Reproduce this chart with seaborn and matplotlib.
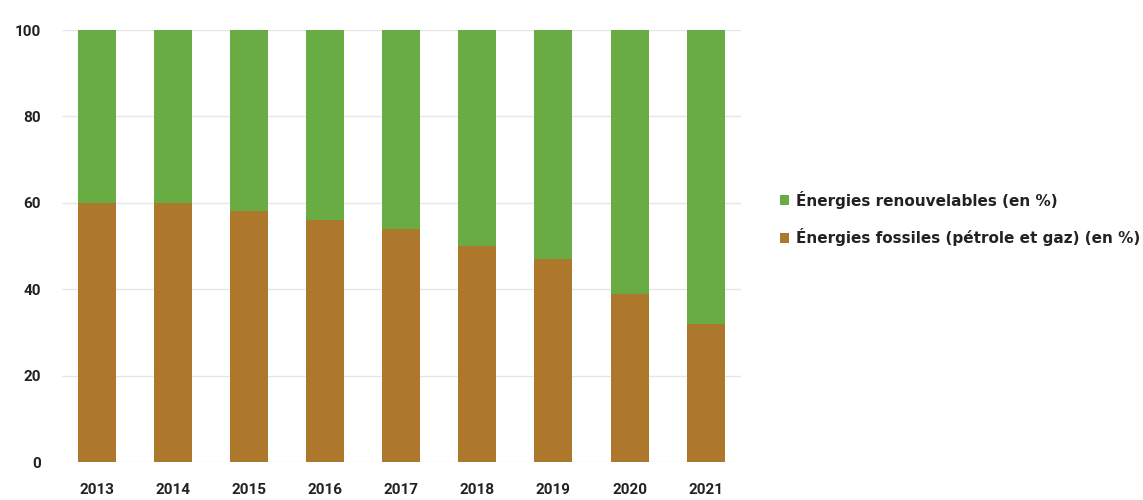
import matplotlib
matplotlib.use("Agg")
import matplotlib.pyplot as plt
from matplotlib.patches import Patch
import seaborn as sns
import pandas as pd

years = ["2013", "2014", "2015", "2016", "2017", "2018", "2019", "2020", "2021"]
fossiles = [60, 60, 58, 56, 54, 50, 47, 39, 32]
renouvelables = [40, 40, 42, 44, 46, 50, 53, 61, 68]
series_labels = ["Énergies renouvelables (en %)", "Énergies fossiles (pétrole et gaz) (en %)"]
y_ticks = [0, 20, 40, 60, 80, 100]

GREEN = "#6aac44"
BROWN = "#ad772c"

sns.set_theme(style="white")
plt.rcParams["font.family"] = ["Roboto", "DejaVu Sans"]

df = pd.DataFrame({
    "annee": years,
    "fossiles": fossiles,
    "total": [f + r for f, r in zip(fossiles, renouvelables)],
})

fig = plt.figure(figsize=(11.43, 5.0), dpi=100)
ax = fig.add_axes([0.054, 0.076, 0.594, 0.864])

# stacked bars: full height in green, fossil share drawn over it
sns.barplot(data=df, x="annee", y="total", color=GREEN, saturation=1, width=0.5,
            linewidth=0, ax=ax, zorder=2)
sns.barplot(data=df, x="annee", y="fossiles", color=BROWN, saturation=1, width=0.5,
            linewidth=0, ax=ax, zorder=3)

ax.set_xlim(-0.46, len(years) - 0.54)
ax.set_ylim(0, 100)
ax.set_yticks(y_ticks)
ax.yaxis.grid(True, color="#e6e6e6", linewidth=1)
ax.set_axisbelow(True)
for s in ax.spines.values():
    s.set_visible(False)
ax.set_xlabel("")
ax.set_ylabel("")
ax.tick_params(axis="both", length=0, labelsize=11, labelcolor="#222222")
ax.tick_params(axis="y", pad=15)
ax.tick_params(axis="x", pad=15)
for lab in ax.get_xticklabels() + ax.get_yticklabels():
    lab.set_fontweight("bold")

handles = [Patch(facecolor=GREEN, edgecolor="none"), Patch(facecolor=BROWN, edgecolor="none")]
fig.legend(handles, series_labels, loc="center left", bbox_to_anchor=(0.67, 0.563),
           frameon=False, handlelength=0.6, handleheight=0.6, handletextpad=0.45,
           labelspacing=1.3, prop={"family": "DejaVu Sans", "size": 11, "weight": "bold"},
           labelcolor="#222222")

fig.savefig("out.png", dpi=100, facecolor="white")
